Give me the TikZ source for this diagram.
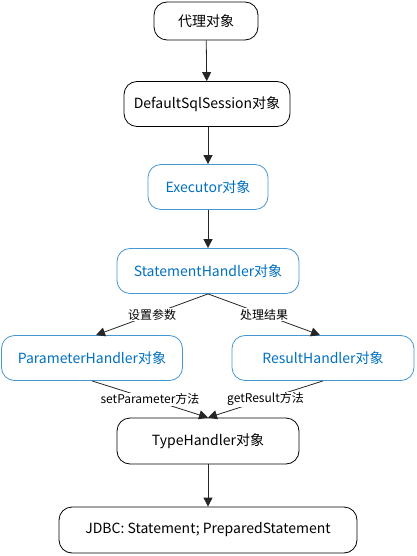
\documentclass[tikz,border=0pt]{standalone}
\usepackage{fontspec}
\setmainfont{Noto Sans CJK SC}
\usetikzlibrary{arrows.meta}
\definecolor{bluetxt}{RGB}{0,112,192}
\definecolor{blueline}{RGB}{70,150,210}
\tikzset{
  box/.style={draw=black, line width=0.8pt, rounded corners=13pt, inner sep=0pt, align=center, font=\fontsize{14}{16}\selectfont},
  bluebox/.style={box, draw=blueline, text=bluetxt},
  conn/.style={draw=black!85, line width=0.8pt, -{Triangle[length=9pt,width=9pt]}},
  lbl/.style={fill=white, inner sep=1pt, font=\fontsize{12}{14}\selectfont}
}
\begin{document}
\begin{tikzpicture}[x=1pt,y=-1pt]
\useasboundingbox (0,0) rectangle (416,556);
\node[box, minimum width=104pt, minimum height=38pt] (proxy) at (206,21) {代理对象};
\node[box, minimum width=166pt, minimum height=45pt] (dss) at (207,104) {DefaultSqlSession对象};
\node[bluebox, minimum width=120pt, minimum height=45pt] (exec) at (208,187) {Executor对象};
\node[bluebox, minimum width=182pt, minimum height=45pt] (sh) at (208,271) {StatementHandler对象};
\node[bluebox, minimum width=181pt, minimum height=45pt] (ph) at (92,358) {ParameterHandler对象};
\node[bluebox, minimum width=182pt, minimum height=45pt] (rh) at (323,358) {ResultHandler对象};
\node[box, minimum width=182pt, minimum height=46pt] (th) at (208,441) {TypeHandler对象};
\node[box, minimum width=298pt, minimum height=46pt] (jdbc) at (208,530) {JDBC: Statement; PreparedStatement};
\draw[conn] (proxy) -- (dss);
\draw[conn] (dss.south -| exec) -- (exec);
\draw[conn] (exec) -- (sh);
\draw[conn] (sh.south) -- node[lbl]{设置参数} ([xshift=4pt]ph.north);
\draw[conn] (sh.south) -- node[lbl]{处理结果} ([xshift=-3pt]rh.north);
\draw[conn] (ph.south) -- node[lbl]{setParameter方法} (th.north);
\draw[conn] (rh.south) -- node[lbl]{getResult方法} (th.north);
\draw[conn] (th) -- (jdbc);
\end{tikzpicture}
\end{document}
